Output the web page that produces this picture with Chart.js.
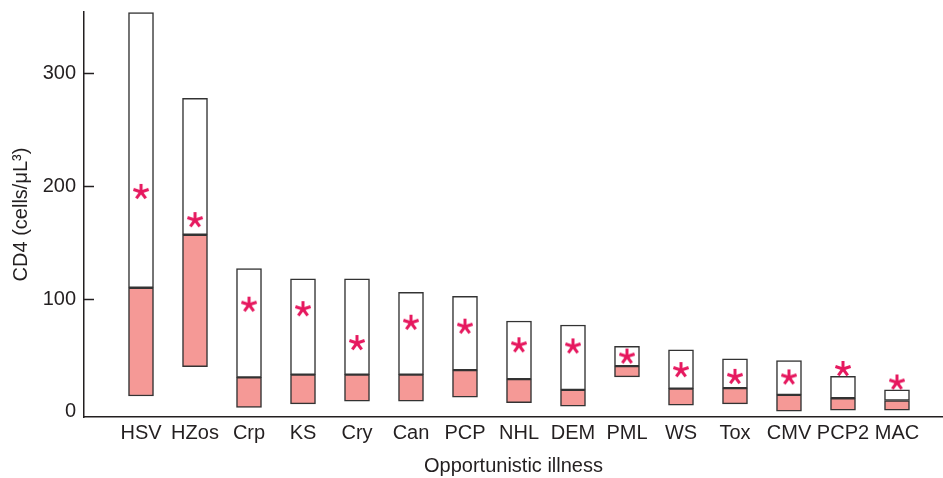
<!DOCTYPE html>
<html>
<head>
<meta charset="utf-8">
<script src="https://cdn.jsdelivr.net/npm/chart.js@4"></script>
<style>
  html, body { margin: 0; padding: 0; background: #fff; }
  #wrap { width: 943px; height: 478px; }
</style>
</head>
<body>
<div id="wrap"><canvas id="canvas"></canvas></div>
<script>
const illnesses = ["HSV", "HZos", "Crp", "KS", "Cry", "Can", "PCP", "NHL", "DEM", "PML", "WS", "Tox", "CMV", "PCP2", "MAC"];
const lowVals = [14, 40, 4, 7, 9.5, 9.5, 13, 8, 5, 31, 6, 7, 0.5, 1.5, 1.5];
const splitVals = [110, 157, 30.5, 33, 33, 33, 37, 29, 19.5, 40.5, 20.5, 21, 15, 12, 10];
const highVals = [354, 278, 127, 118, 118, 106, 102.5, 80.5, 77, 58, 55, 47, 45.5, 31.5, 19.5];
const starVals = [195, 170, 95, 91, 61, 79, 75.5, 59, 58, 49, 37, 31, 30.5, 38, 26];
const yTicks = [0, 100, 200, 300];

const textColor = "#231f20";
Chart.defaults.font.family = "'Liberation Sans', Arial, sans-serif";
Chart.defaults.font.size = 20;
Chart.defaults.color = textColor;

// five-armed asterisk used as point style
const makeStar = () => {
  const c = document.createElement("canvas");
  c.width = 20;
  c.height = 20;
  const g = c.getContext("2d");
  g.strokeStyle = "#e6195f";
  g.lineWidth = 3;
  for (let i = 0; i < 5; i++) {
    const a = -Math.PI / 2 + (i * 2 * Math.PI) / 5;
    g.beginPath();
    g.moveTo(10, 10);
    g.lineTo(10 + 8 * Math.cos(a), 10 + 8 * Math.sin(a));
    g.stroke();
  }
  return c;
};
const star = makeStar();

const lowerData = illnesses.map((n, i) => ({ x: i + 1, y: [lowVals[i], splitVals[i]] }));
const upperData = illnesses.map((n, i) => ({ x: i + 1, y: [splitVals[i], highVals[i]] }));
const starData = illnesses.map((n, i) => ({ x: i + 1, y: starVals[i] }));

const barStyle = {
  grouped: false,
  barThickness: 25,
  borderWidth: 1.5,
  borderColor: "#333333",
  borderSkipped: false,
};

let ctx = document.getElementById("canvas");
let myChart = new Chart(ctx, {
  type: "bar",
  data: {
    datasets: [
      Object.assign({ data: lowerData, backgroundColor: "#f59996", order: 2 }, barStyle),
      Object.assign({ data: upperData, backgroundColor: "#ffffff", order: 1 }, barStyle),
      {
        type: "scatter",
        data: starData,
        pointStyle: star,
        pointRadius: 10,
        order: 0,
      },
    ],
  },
  options: {
    responsive: true,
    maintainAspectRatio: false,
    animation: false,
    layout: { autoPadding: false, padding: { left: 0, right: 0, top: 12, bottom: 0 } },
    plugins: { legend: { display: false }, tooltip: { enabled: false } },
    scales: {
      x: {
        type: "linear",
        offset: false,
        min: -0.0556,
        max: 15.852,
        afterBuildTicks: (scale) => {
          scale.ticks = illnesses.map((n, i) => ({ value: i + 1 }));
        },
        afterFit: (scale) => {
          scale.paddingLeft = 0;
          scale.paddingRight = 0;
        },
        grid: { display: false, drawTicks: false },
        border: { display: true, color: textColor, width: 1.5 },
        ticks: {
          autoSkip: false,
          maxRotation: 0,
          minRotation: 0,
          padding: 4,
          callback: (v) => illnesses[v - 1],
        },
        title: {
          display: true,
          text: "Opportunistic illness",
          padding: { top: 5, bottom: 0 },
        },
      },
      y: {
        min: -4.6,
        max: 354.5,
        afterBuildTicks: (scale) => {
          scale.ticks = yTicks.map((v) => ({ value: v }));
        },
        afterFit: (scale) => {
          scale.width = 84;
          scale.paddingTop = 0;
          scale.paddingBottom = 0;
        },
        grid: {
          drawOnChartArea: false,
          tickLength: -10,
          tickWidth: 1.5,
          tickColor: (c) => (c.tick && c.tick.value === 0 ? "rgba(0,0,0,0)" : textColor),
        },
        border: { display: true, color: textColor, width: 1.5 },
        ticks: { padding: 18 },
        title: {
          display: true,
          text: "CD4 (cells/μL³)",
          padding: { top: 9, bottom: 9 },
        },
      },
    },
  },
});
</script>
</body>
</html>
